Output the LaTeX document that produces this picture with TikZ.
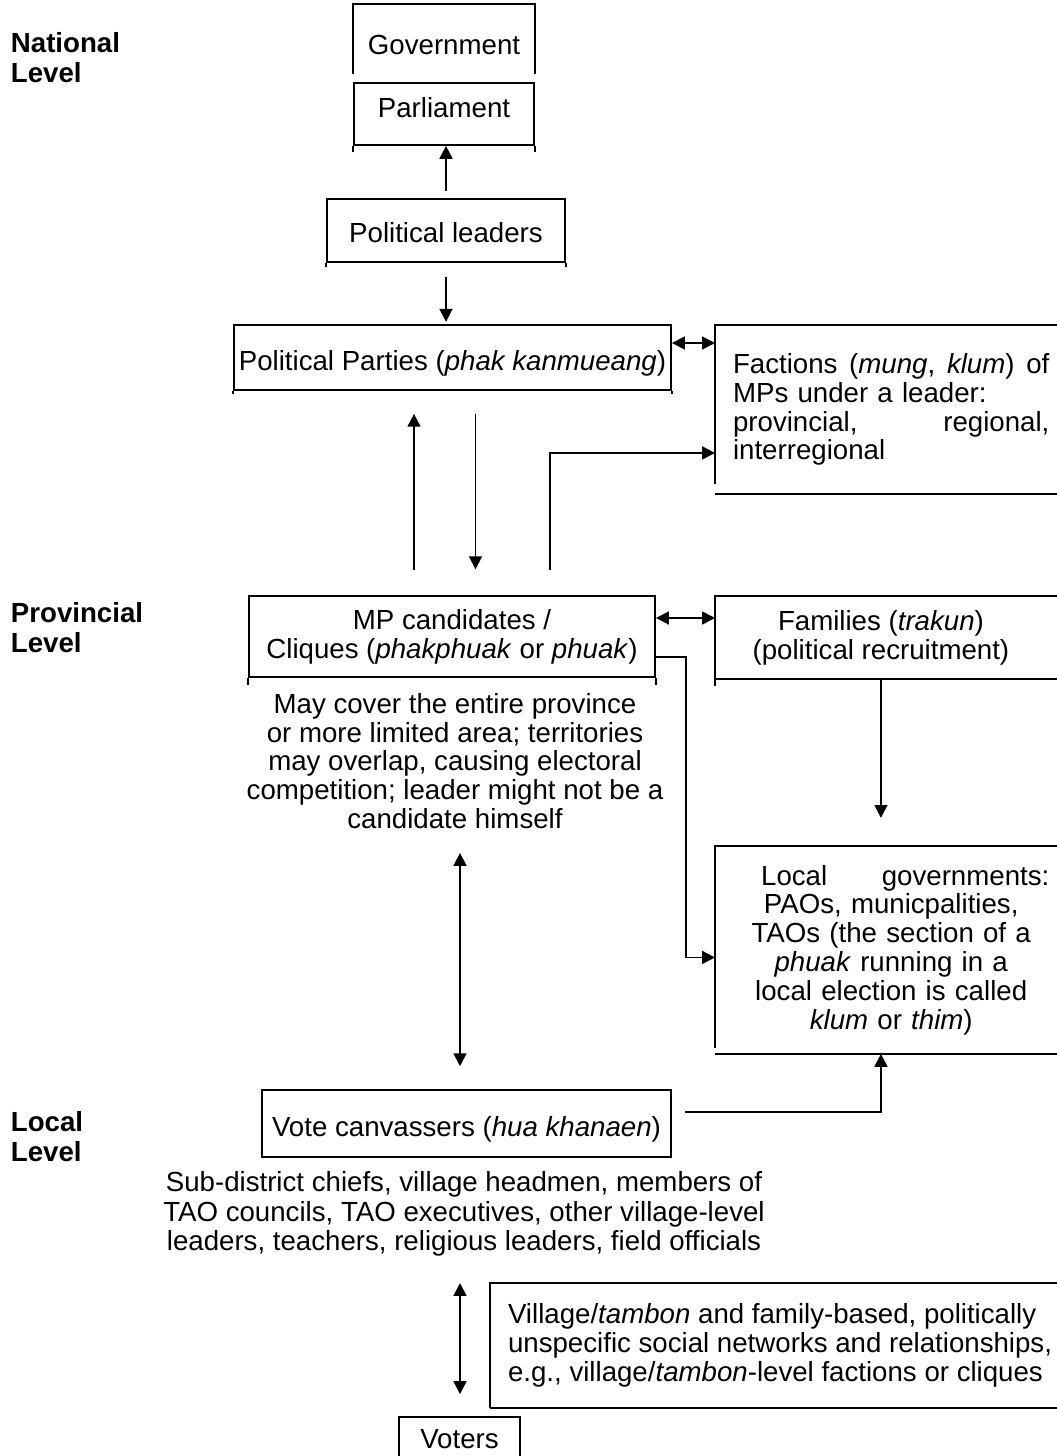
\documentclass[tikz,border=0pt]{standalone}
\usepackage{fontspec}
\setmainfont{Liberation Sans}
\usetikzlibrary{arrows.meta,calc}
\setlength{\parindent}{0pt}

\begin{document}
\begin{tikzpicture}[
    x=0.015cm, y=-0.015cm, line width=0.8pt,
    every node/.style={font=\fontsize{11.8}{12.3}\selectfont, inner sep=0pt},
    box/.style={rectangle, draw, align=center},
    openbox/.style={rectangle, inner xsep=7.3pt},
    levellabel/.style={align=left, anchor=west, font=\fontsize{11.8}{12.8}\selectfont\bfseries},
    note/.style={align=center},
    arrow/.style={-{Triangle[length=5.5pt,width=5.5pt]}},
    dblarrow/.style={{Triangle[length=5.5pt,width=5.5pt]}-{Triangle[length=5.5pt,width=5.5pt]}}
]

% Page
\useasboundingbox (0,0) rectangle (1057,1456);
\clip (0,0) rectangle (1057,1456);

% Level labels
\node[levellabel] (national) at (10,58) {National\\Level};
\node[levellabel] (provincial) at (10,628) {Provincial\\Level};
\node[levellabel] (local) at (10,1137) {Local\\Level};

% National level
\node[box, draw=none, minimum width=2.7cm, text height=21.3pt, text depth=7.7pt] (gov) at (444,39) {Government};
\draw (gov.south west) |- (gov.north east) -- (gov.south east);
\node[box, minimum width=2.7cm, text height=14.9pt, text depth=11.5pt] (parl) at (444,114) {Parliament};
\node[box, minimum width=3.57cm, text height=18.8pt, text depth=8.2pt] (leaders) at (446,230.5) {Political leaders};
\node[box, minimum width=6.555cm, text height=19.2pt, text depth=8.5pt] (parties) at (452.5,357.5) {Political Parties (\textit{phak kanmueang})};
\node[openbox, anchor=north west, text width=135pt, align=left, minimum height=2.505cm] (factions) at (715,325)
    {Factions\hfill(\textit{mung},\hfill\textit{klum})\hfill of\\MPs under a leader:\\provincial,\hfill regional,\\interregional};

% Provincial level
\node[box, minimum width=6.09cm, minimum height=1.215cm] (mp) at (452,636.5) {MP candidates /\\Cliques (\textit{phakphuak} or \textit{phuak})};
\node[openbox, anchor=north west, align=center, minimum width=4.95cm, minimum height=1.215cm] (families) at (715,596)
    {Families (\textit{trakun})\\(political recruitment)};
\node[note, font=\fontsize{11.8}{12.25}\selectfont] (maycover) at (455,761) {May cover the entire province\\or more limited area; territories\\may overlap, causing electoral\\competition; leader might not be a\\candidate himself};
\node[openbox, anchor=north west, text width=135pt, align=center, minimum height=3.09cm] (localgov) at (715,846)
    {\hspace*{12pt}Local\hfill governments:\\PAOs, municpalities,\hfill\\TAOs (the section of a\\\textit{phuak} running in a\\local election is called\\\textit{klum} or \textit{thim})};

% Local level
\node[box, minimum width=6.135cm, text height=20pt, text depth=8.5pt] (vote) at (466.5,1123.5) {Vote canvassers (\textit{hua khanaen})};
\node[note, font=\fontsize{11.8}{12.6}\selectfont] (subdist) at (464,1214)
    {Sub-district chiefs, village headmen, members of\\TAO councils, TAO executives, other village-level\\leaders, teachers, religious leaders, field officials};
\node[openbox, anchor=north west, align=left, minimum height=1.845cm] (village) at (490,1283)
    {Village/\textit{tambon} and family-based, politically\\unspecific social networks and relationships,\\e.g., village/\textit{tambon}-level factions or cliques};
\node[box, minimum width=1.815cm, text height=13.2pt, text depth=8.5pt] (voters) at (459.5,1442.5) {Voters};

% Side lines running past the bottom edge of some boxes
\foreach \b/\e in {parl/6, leaders/4, parties/3, mp/7}
  \draw (\b.south west) -- ++(0,\e) (\b.south east) -- ++(0,\e);

% Open frames running off the right edge (left side length differs per box)
\foreach \b/\e in {factions/-10, families/7, localgov/-6, village/0}{
  \draw ($(\b.north west)+(600,0)$) -| ($(\b.south west)+(0,\e)$);
  \draw (\b.south west) -- ++(600,0);
}

% Connections
\coordinate (axis) at (460,0);
\draw[arrow, shorten <=3pt] (leaders.north) -- (leaders.north |- parl.south);
\draw[arrow, shorten <=6pt, shorten >=1pt] (leaders.south) -- (leaders.south |- parties.north);
\coordinate (pf) at ($(parties.east)+(0,-14.5)$);
\draw[dblarrow] (pf) -- (pf -| factions.west);
\coordinate (up) at ($(mp.north)+(-38,-25)$);
\draw[arrow, shorten >=9.8pt] (up) -- (up |- parties.south);
\coordinate (dn) at ($(parties.south)+(23,23)$);
\draw[arrow, shorten >=11pt] (dn) -- (dn |- mp.north);
\coordinate (mf) at ($(mp.north)+(98,-25)$);
\draw[arrow] (mf) |- ($(factions.west)+(0,43.5)$);
\coordinate (mfam) at ($(mp.east)+(0,-18.5)$);
\draw[dblarrow] (mfam) -- (mfam -| families.west);
\draw[arrow] ($(mp.east)+(0,20.5)$) -- ++(30,0) |- ($(localgov.west)+(0,7.5)$);
\draw[arrow, shorten >=12pt] (families.south) -- (families.south |- localgov.north);
\draw[arrow] ($(vote.east)+(13,-11.5)$) -| (families.south |- localgov.south);
\draw[dblarrow, shorten <=10pt, shorten >=9.8pt] (maycover.south -| axis) -- (vote.north -| axis);
\draw[dblarrow, shorten >=9.4pt] (village.north -| axis) -- (voters.north -| axis);

\end{tikzpicture}
\end{document}
